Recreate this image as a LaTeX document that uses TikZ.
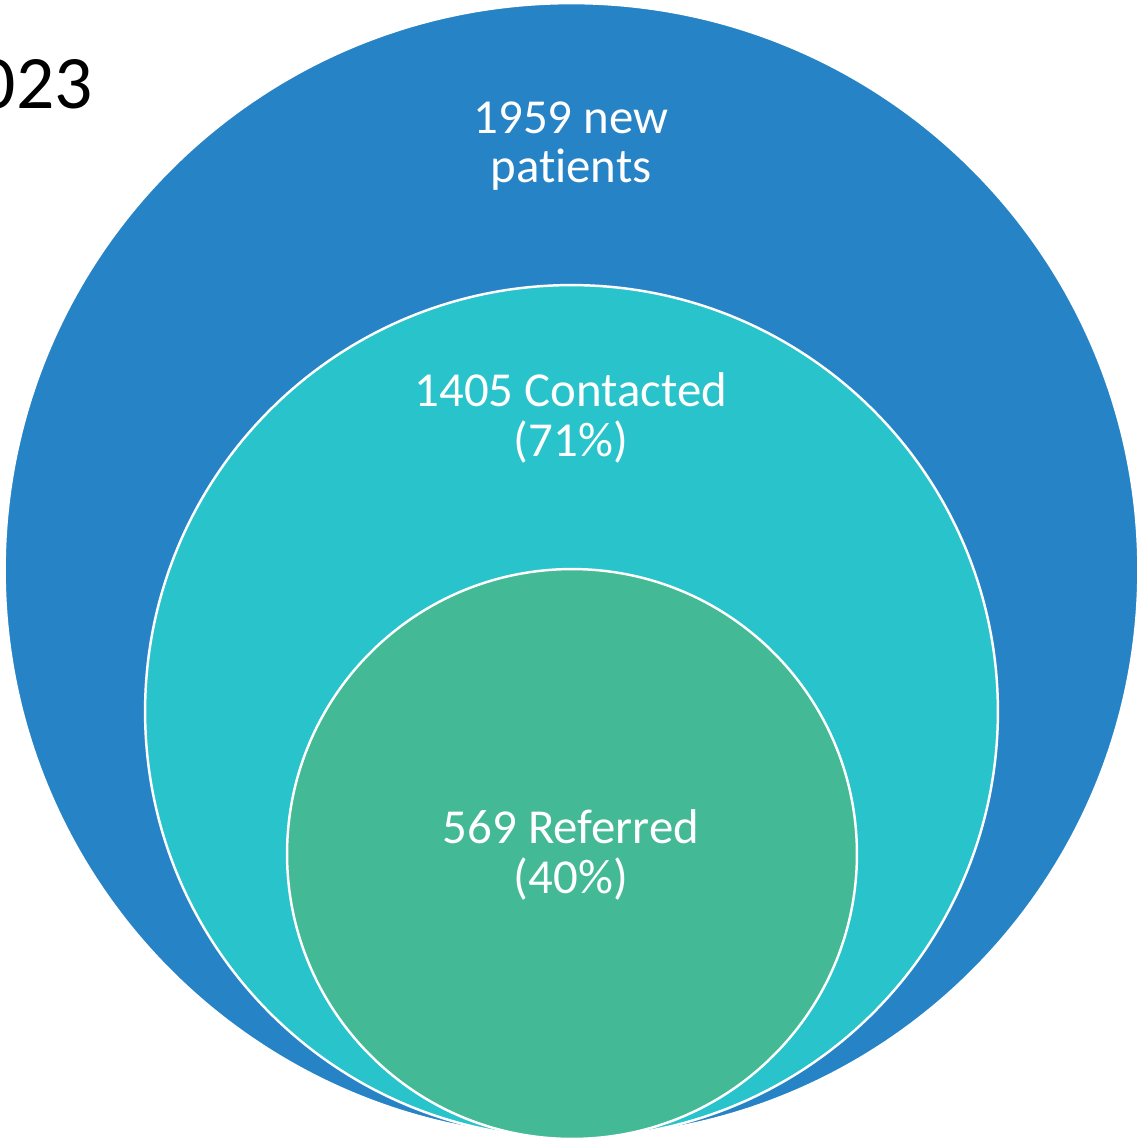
\documentclass[tikz,border=0pt]{standalone}
\usepackage{fontspec}
\setmainfont[Ligatures=NoCommon]{Carlito}
\usepackage{tikz}

\definecolor{outerblue}{HTML}{2683C6}
\definecolor{midcyan}{HTML}{28C3CB}
\definecolor{innergreen}{HTML}{43B995}

\begin{document}
\begin{tikzpicture}[x=0.02cm, y=-0.02cm, ring/.style={circle,draw=white,line width=1.4pt,inner sep=0pt},lbl/.style={text=white,align=center,inner sep=0pt,font=\fontsize{27.8}{28.3}\selectfont}]
              \useasboundingbox (0,0) rectangle (1140,1139);
              \clip (0,0) rectangle (1140,1139);

              % nested circles, all touching at the bottom
              \node[ring,fill=outerblue,minimum size=22.68cm] (outer) at (571.5,570) {};
              \node[ring,fill=midcyan,minimum size=17.06cm] (middle) at (571.5,711.5) {};
              \node[ring,fill=innergreen,minimum size=11.4cm] (inner) at (572,854) {};

              \node[lbl] (newpat) at (571,146) {1959 new\\patients};
              \node[lbl] (contacted) at (571,418) {1405 Contacted\\(71\%)};
              \node[lbl] (referred) at (571,855) {569 Referred\\(40\%)};

              \node[anchor=base east,inner sep=0pt,font=\fontsize{43}{43}\selectfont] (year) at (93,108) {2023};
            \end{tikzpicture}
\end{document}
